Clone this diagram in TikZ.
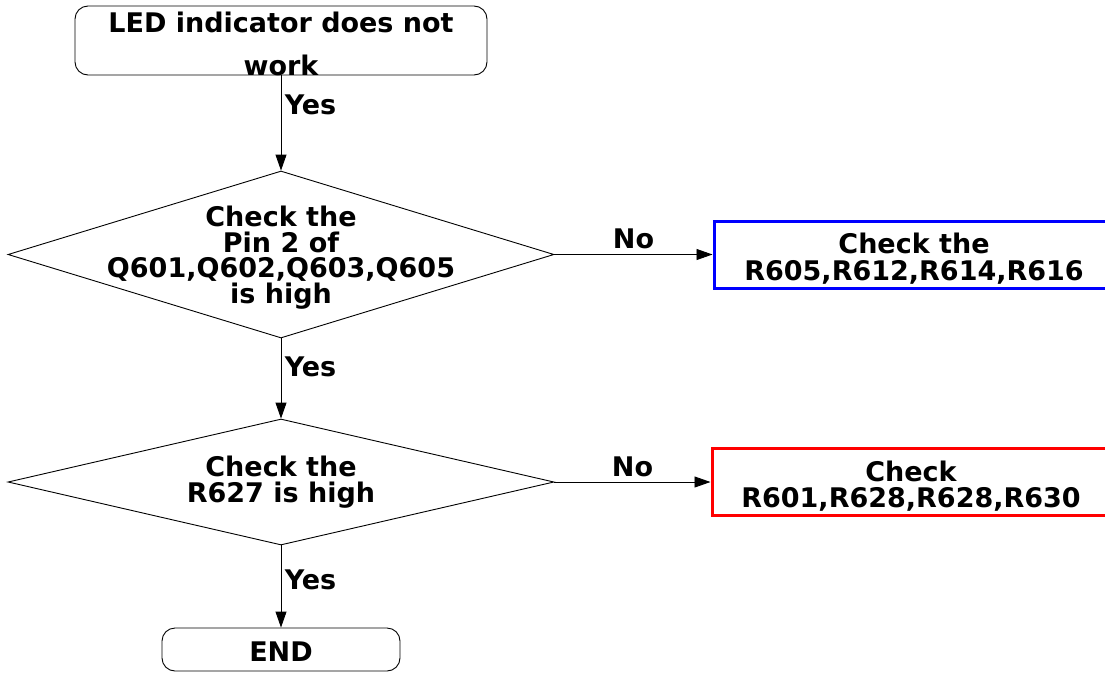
\documentclass[tikz,border=0pt]{standalone}
\usepackage{fontspec}
\setmainfont{DejaVu Sans}
\usetikzlibrary{shapes.geometric,arrows.meta}

\begin{document}
\begin{tikzpicture}[x=1pt,y=-1pt,line width=.9pt,
    every node/.style={font=\bfseries\fontsize{27}{25.5}\selectfont, align=center},
    every label/.style={inner sep=0pt},
    term/.style={draw, rounded corners=13pt, inner sep=0pt},
    decision/.style={draw, diamond, inner sep=0pt, minimum width=546pt},
    checkbox/.style={draw, line width=3pt, inner sep=0pt, minimum width=400pt, minimum height=67pt},
    >={Triangle[length=16pt,width=11pt]}]

  \useasboundingbox (0,0) rectangle (1105,672);

  % shapes
  \node[term, minimum width=412pt, minimum height=69pt,
        label={[yshift=-3.5pt]center:LED indicator does not\\[17.5pt]work}] (1) at (281,40.5) {};
  \node[decision, minimum height=167pt,
        label={[yshift=-3pt]center:Check the\\Pin 2 of\\Q601,Q602,Q603,Q605\\is high}] (2) at (281,254.5) {};
  \node[checkbox, draw=blue,
        label={[yshift=-4pt]center:Check the\\[2pt]R605,R612,R614,R616}] (3) at (914,254.5) {};
  \node[decision, minimum height=126pt,
        label={center:Check the\\R627 is high}] (4) at (281,482) {};
  \node[checkbox, draw=red, minimum width=398pt,
        label={[yshift=-4pt]center:Check\\[1pt]R601,R628,R628,R630}] (5) at (911,482) {};
  \node[term, minimum width=238pt, minimum height=43pt,
        label={[yshift=-2pt]center:END}] (6) at (281,649.5) {};

  % connectors
  \path (1)       edge[->] node[right, pos=.31] {Yes} (2);
  \path (2)       edge[->] node[right, pos=.36] {Yes} (4);
  \path (4)       edge[->] node[right, pos=.42] {Yes} (6);
  \path (2.east)  edge[->] node[above, inner sep=5pt] {No} (3.west);
  \path (4.east)  edge[->] node[above, inner sep=5pt] {No} (5.west);

\end{tikzpicture}
\end{document}
